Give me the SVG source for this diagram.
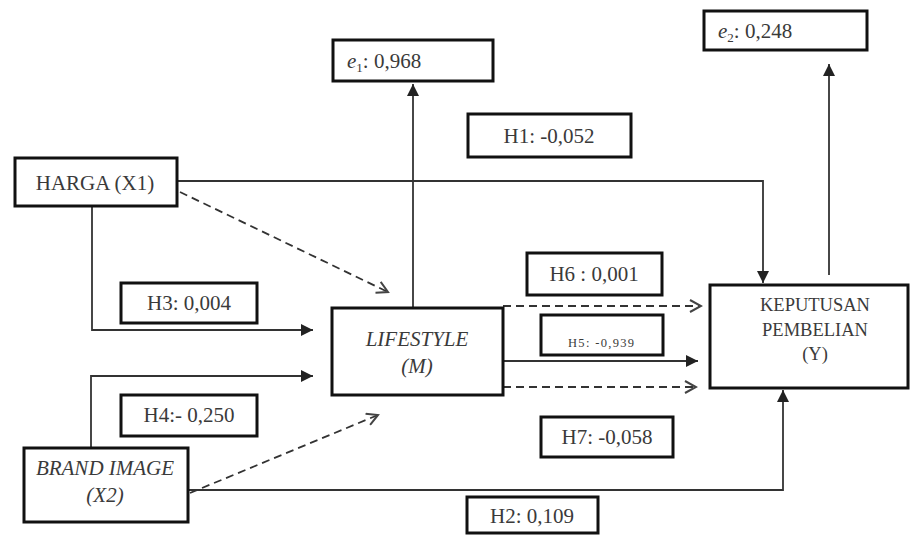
<svg xmlns="http://www.w3.org/2000/svg" width="914" height="536" viewBox="0 0 914 536">
<style>
.box{fill:#fff;stroke:#111;stroke-width:3}
.lbl{fill:#fff;stroke:#111;stroke-width:3}
.t{font-family:"Liberation Serif","Times New Roman",serif;font-size:21px;fill:#3a3a3a;text-anchor:middle}
.ti{font-style:italic}
.k{font-size:18.5px}
.s{font-size:12.5px}
.c{fill:none;stroke:#333;stroke-width:1.8}
.solid{marker-end:url(#fa)}
.dash{stroke-dasharray:8 5;marker-end:url(#oa)}
</style>
<defs>
<marker id="fa" markerUnits="userSpaceOnUse" markerWidth="14" markerHeight="12" refX="12" refY="6" orient="auto">
<path d="M0,0 L12,6 L0,12 Z" fill="#222"/>
</marker>
<marker id="oa" markerUnits="userSpaceOnUse" markerWidth="14" markerHeight="14" refX="12" refY="7" orient="auto">
<path d="M1,1 L12,7 L1,13" fill="none" stroke="#444" stroke-width="2"/>
</marker>
</defs>
<rect width="914" height="536" fill="#fff"/>
<g id="connectors">
<line class="c solid" x1="413" y1="308" x2="413" y2="84"/>
<line class="c solid" x1="829" y1="275" x2="829" y2="64"/>
<polyline class="c solid" points="177,181 763,181 763,283"/>
<line class="c dash" x1="180" y1="192" x2="388" y2="292"/>
<polyline class="c solid" points="92,206 92,330 313,330"/>
<polyline class="c solid" points="91,448 91,376 313,376"/>
<line class="c dash" x1="190" y1="493" x2="378" y2="415"/>
<polyline class="c solid" points="188,490 783,490 783,390"/>
<line class="c dash" x1="503" y1="306" x2="701" y2="306"/>
<line class="c solid" x1="503" y1="361" x2="698" y2="361"/>
<line class="c dash" x1="503" y1="387" x2="696" y2="387"/>
</g>
<g id="e1">
<rect class="box" x="333" y="40" width="160" height="41"/>
<text class="t" x="347" y="68" style="text-anchor:start"><tspan font-style="italic">e</tspan><tspan font-size="13" dy="4">1</tspan><tspan dy="-4">: 0,968</tspan></text>
</g>
<g id="e2">
<rect class="box" x="704" y="11" width="163" height="39"/>
<text class="t" x="718" y="38" style="text-anchor:start"><tspan font-style="italic">e</tspan><tspan font-size="13" dy="4">2</tspan><tspan dy="-4">: 0,248</tspan></text>
</g>
<g id="harga">
<rect class="box" x="15" y="158" width="162" height="48"/>
<text class="t" x="95" y="190">HARGA (X1)</text>
</g>
<g id="lifestyle">
<rect class="box" x="332" y="308" width="171" height="87"/>
<text class="t ti" x="417" y="346">LIFESTYLE</text>
<text class="t ti" x="417" y="373">(M)</text>
</g>
<g id="brand-image">
<rect class="box" x="24" y="448" width="164" height="74"/>
<text class="t ti" x="105" y="475">BRAND IMAGE</text>
<text class="t ti" x="105" y="502">(X2)</text>
</g>
<g id="keputusan">
<rect class="box" x="710" y="285" width="198" height="103"/>
<text class="t k" x="815" y="311">KEPUTUSAN</text>
<text class="t k" x="815" y="336">PEMBELIAN</text>
<text class="t k" x="815" y="360">(Y)</text>
</g>
<g id="h1">
<rect class="lbl" x="468" y="114" width="163" height="43"/>
<text class="t" x="549" y="143">H1: -0,052</text>
</g>
<g id="h6">
<rect class="lbl" x="527" y="253" width="135" height="42"/>
<text class="t" x="594" y="281">H6 : 0,001</text>
</g>
<g id="h5">
<rect class="lbl" x="541" y="315" width="122" height="40"/>
<text class="t s" x="601" y="347" textLength="66" lengthAdjust="spacing">H5: -0,939</text>
</g>
<g id="h3">
<rect class="lbl" x="121" y="283" width="136" height="40"/>
<text class="t" x="189" y="310">H3: 0,004</text>
</g>
<g id="h4">
<rect class="lbl" x="121" y="395" width="136" height="41"/>
<text class="t" x="189" y="422">H4:- 0,250</text>
</g>
<g id="h7">
<rect class="lbl" x="541" y="417" width="132" height="40"/>
<text class="t" x="607" y="444">H7: -0,058</text>
</g>
<g id="h2">
<rect class="lbl" x="467" y="497" width="131" height="36"/>
<text class="t" x="532" y="523">H2: 0,109</text>
</g>
</svg>
